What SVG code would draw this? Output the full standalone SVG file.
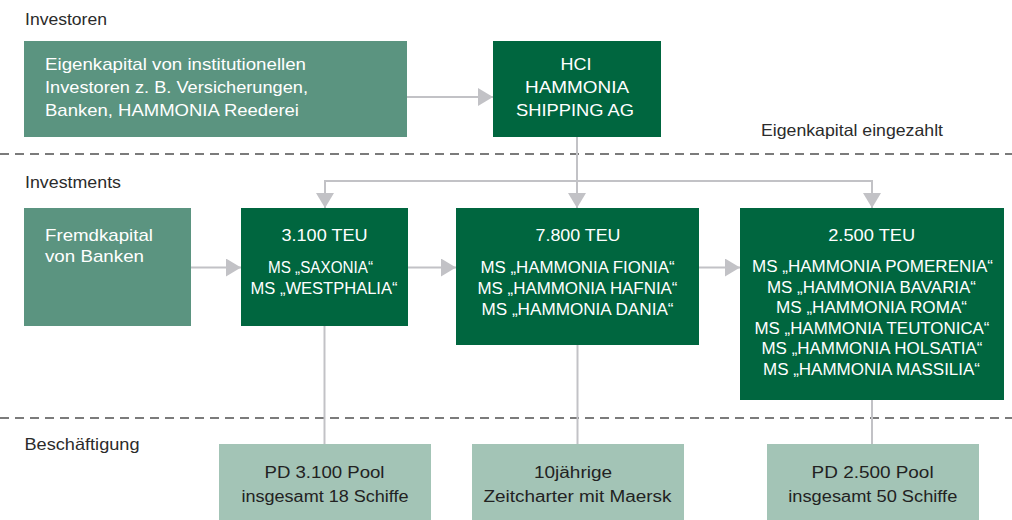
<svg xmlns="http://www.w3.org/2000/svg" width="1012" height="520" viewBox="0 0 1012 520">
<style>
text{font-family:"Liberation Sans",Arial,sans-serif;font-size:17px}
.lbl{fill:#2b2b2b;font-size:16.5px}
.w{fill:#fff}
.ms{fill:#fff;font-size:16px}
.d{fill:#222;font-size:16px}
.m{text-anchor:middle}
.light{fill:#5b9480}
.dark{fill:#00663f}
.pale{fill:#a3c4b6}
.con{stroke:#c2c2c6;stroke-width:2;fill:none}
.sep{stroke:#505050;stroke-width:1.4;stroke-dasharray:9 6;fill:none}
</style>
<defs>
<marker id="ah" markerWidth="15" markerHeight="18" refX="15" refY="9" orient="auto" markerUnits="userSpaceOnUse" viewBox="0 0 15 18">
<path d="M0,0 L15,9 L0,18 Z" fill="#c2c2c6"/>
</marker>
</defs>
<g id="separators">
<line class="sep" x1="0" y1="154" x2="1012" y2="154"/>
<line class="sep" x1="0" y1="418" x2="1012" y2="418"/>
</g>
<g id="section-labels">
<text class="lbl" x="25" y="24.5" textLength="82" lengthAdjust="spacingAndGlyphs">Investoren</text>
<text class="lbl" x="25" y="188.3" textLength="96" lengthAdjust="spacingAndGlyphs">Investments</text>
<text class="lbl" x="24.5" y="450" textLength="115" lengthAdjust="spacingAndGlyphs">Beschäftigung</text>
<text class="lbl" x="761" y="136" textLength="182" lengthAdjust="spacingAndGlyphs">Eigenkapital eingezahlt</text>
</g>
<g id="connectors">
<line class="con" x1="407" y1="97" x2="493" y2="97" marker-end="url(#ah)"/>
<line class="con" x1="577" y1="136" x2="577" y2="208" marker-end="url(#ah)"/>
<polyline class="con" points="325,194 325,181 872,181 872,194"/>
<line class="con" x1="325" y1="181" x2="325" y2="208" marker-end="url(#ah)"/>
<line class="con" x1="872" y1="181" x2="872" y2="208" marker-end="url(#ah)"/>
<line class="con" x1="191" y1="267.5" x2="241" y2="267.5" marker-end="url(#ah)"/>
<line class="con" x1="408" y1="267.5" x2="456" y2="267.5" marker-end="url(#ah)"/>
<line class="con" x1="699" y1="267.5" x2="740" y2="267.5" marker-end="url(#ah)"/>
<line class="con" x1="324.5" y1="326" x2="324.5" y2="444"/>
<line class="con" x1="577.5" y1="345" x2="577.5" y2="444"/>
<line class="con" x1="872" y1="400" x2="872" y2="444"/>
</g>
<g id="node-eigenkapital">
<rect class="light" x="24" y="41" width="383" height="96"/>
<text class="w" x="45" y="69.5" textLength="261" lengthAdjust="spacingAndGlyphs">Eigenkapital von institutionellen</text>
<text class="w" x="45" y="92.5" textLength="263" lengthAdjust="spacingAndGlyphs">Investoren z. B. Versicherungen,</text>
<text class="w" x="45" y="115.5" textLength="254" lengthAdjust="spacingAndGlyphs">Banken, HAMMONIA Reederei</text>
</g>
<g id="node-hci">
<rect class="dark" x="493" y="41" width="168" height="96"/>
<text class="w m" x="576" y="69.5" font-size="16" textLength="31" lengthAdjust="spacingAndGlyphs">HCI</text>
<text class="w m" x="577" y="92.5" font-size="16" textLength="104" lengthAdjust="spacingAndGlyphs">HAMMONIA</text>
<text class="w m" x="575" y="115.5" font-size="16" textLength="118" lengthAdjust="spacingAndGlyphs">SHIPPING AG</text>
</g>
<g id="node-fremdkapital">
<rect class="light" x="24" y="208" width="167" height="118"/>
<text class="w" x="45" y="241" textLength="108" lengthAdjust="spacingAndGlyphs">Fremdkapital</text>
<text class="w" x="45" y="262" textLength="99" lengthAdjust="spacingAndGlyphs">von Banken</text>
</g>
<g id="node-3100">
<rect class="dark" x="241" y="208" width="167" height="118"/>
<text class="w m" x="324.5" y="240.5" textLength="86" lengthAdjust="spacingAndGlyphs">3.100 TEU</text>
<text class="ms m" x="320.5" y="273.3" textLength="105" lengthAdjust="spacingAndGlyphs">MS „SAXONIA“</text>
<text class="ms m" x="324" y="294.3" textLength="147" lengthAdjust="spacingAndGlyphs">MS „WESTPHALIA“</text>
</g>
<g id="node-7800">
<rect class="dark" x="456" y="208" width="243" height="137"/>
<text class="w m" x="578" y="240.5" textLength="85" lengthAdjust="spacingAndGlyphs">7.800 TEU</text>
<text class="ms m" x="577.5" y="273.3" textLength="194" lengthAdjust="spacingAndGlyphs">MS „HAMMONIA FIONIA“</text>
<text class="ms m" x="577.5" y="294.3" textLength="200" lengthAdjust="spacingAndGlyphs">MS „HAMMONIA HAFNIA“</text>
<text class="ms m" x="577.5" y="315" textLength="192" lengthAdjust="spacingAndGlyphs">MS „HAMMONIA DANIA“</text>
</g>
<g id="node-2500">
<rect class="dark" x="740" y="208" width="264" height="192"/>
<text class="w m" x="871.7" y="240.5" textLength="87" lengthAdjust="spacingAndGlyphs">2.500 TEU</text>
<text class="ms m" x="872.5" y="272" textLength="241" lengthAdjust="spacingAndGlyphs">MS „HAMMONIA POMERENIA“</text>
<text class="ms m" x="871.5" y="292.5" textLength="209" lengthAdjust="spacingAndGlyphs">MS „HAMMONIA BAVARIA“</text>
<text class="ms m" x="871.5" y="313" textLength="191" lengthAdjust="spacingAndGlyphs">MS „HAMMONIA ROMA“</text>
<text class="ms m" x="872" y="333.5" textLength="235" lengthAdjust="spacingAndGlyphs">MS „HAMMONIA TEUTONICA“</text>
<text class="ms m" x="872" y="354" textLength="221" lengthAdjust="spacingAndGlyphs">MS „HAMMONIA HOLSATIA“</text>
<text class="ms m" x="871.5" y="374.5" textLength="217" lengthAdjust="spacingAndGlyphs">MS „HAMMONIA MASSILIA“</text>
</g>
<g id="node-pool3100">
<rect class="pale" x="219" y="444" width="212" height="76"/>
<text class="d m" x="324.5" y="477.5" textLength="120" lengthAdjust="spacingAndGlyphs">PD 3.100 Pool</text>
<text class="d m" x="325" y="501.5" textLength="167" lengthAdjust="spacingAndGlyphs">insgesamt 18 Schiffe</text>
</g>
<g id="node-maersk">
<rect class="pale" x="472" y="444" width="212" height="76"/>
<text class="d m" x="573" y="477.5" textLength="78" lengthAdjust="spacingAndGlyphs">10jährige</text>
<text class="d m" x="577.5" y="501.5" textLength="188" lengthAdjust="spacingAndGlyphs">Zeitcharter mit Maersk</text>
</g>
<g id="node-pool2500">
<rect class="pale" x="767" y="444" width="212" height="76"/>
<text class="d m" x="872.6" y="477.5" textLength="122" lengthAdjust="spacingAndGlyphs">PD 2.500 Pool</text>
<text class="d m" x="872.8" y="501.5" textLength="169" lengthAdjust="spacingAndGlyphs">insgesamt 50 Schiffe</text>
</g>
</svg>
